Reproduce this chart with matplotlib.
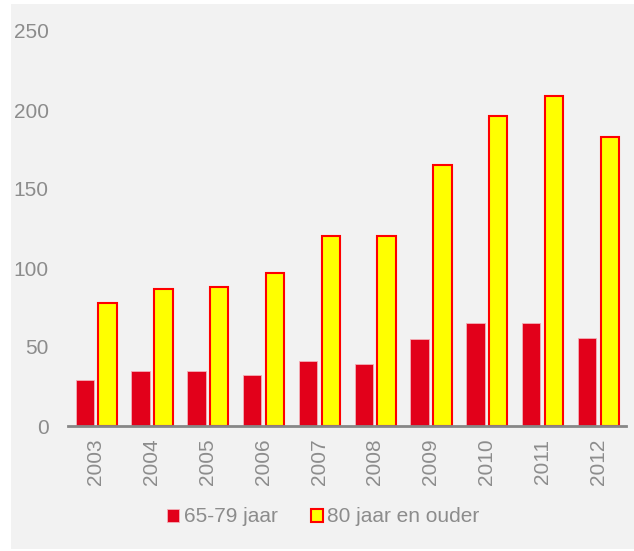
import numpy as np
import matplotlib
matplotlib.use("Agg")
from matplotlib import pyplot as plt
from matplotlib.patches import Rectangle

# data
years = ["2003", "2004", "2005", "2006", "2007", "2008", "2009", "2010", "2011", "2012"]
age_65_79 = [29, 35, 35, 32, 41, 39, 55, 65, 65, 56]
age_80_plus = [78, 87, 88, 97, 120, 120, 165, 196, 209, 183]
series_names = ["65-79 jaar", "80 jaar en ouder"]
y_ticks = [0, 50, 100, 150, 200, 250]

plt.rcParams['font.family'] = ['Liberation Sans', 'DejaVu Sans']
grey_txt = '#8c8c8c'
bg = '#f2f2f2'

fig = plt.figure(figsize=(6.34, 5.51), dpi=100)
fig.patch.set_facecolor('white')
# grey panel behind everything
fig.patches.append(Rectangle((11/634, 0.004), 1, 1 - 0.004 - 4/551, transform=fig.transFigure,
                             facecolor=bg, edgecolor='none', zorder=-10))

ax = fig.add_axes([68/634, 1 - 426/551, 558/634, (426 - 31)/551])
ax.set_facecolor('none')

x = np.arange(len(years))
w = 0.33
ax.bar(x - 0.2, age_65_79, width=w, color='#e2001a', edgecolor='#f3b0b8', linewidth=0.6,
       label=series_names[0], zorder=3)
ax.bar(x + 0.21, age_80_plus, width=w, color='#ffff00', edgecolor='#ff0000', linewidth=1.5,
       label=series_names[1], zorder=3)

ax.set_xlim(-0.5, len(years) - 0.5)
ax.set_ylim(0, 250)
ax.set_yticks(y_ticks)
ax.set_xticks(x)
ax.set_xticklabels(years, rotation=90)

for s in ['top', 'right', 'left']:
    ax.spines[s].set_visible(False)
ax.spines['bottom'].set_color('#878787')
ax.spines['bottom'].set_linewidth(2)
ax.spines['bottom'].set_zorder(4)
ax.tick_params(axis='both', length=0, colors=grey_txt, labelsize=15)
ax.tick_params(axis='y', pad=14)
ax.tick_params(axis='x', pad=9)

leg = fig.legend(loc='center', bbox_to_anchor=(0.51, 1 - 517/551), ncol=2, frameon=False,
                 fontsize=15, handlelength=0.6, handleheight=0.6, handletextpad=0.2,
                 columnspacing=1.6)
for t in leg.get_texts():
    t.set_color(grey_txt)

fig.savefig('out.png', dpi=100, facecolor=fig.get_facecolor())
